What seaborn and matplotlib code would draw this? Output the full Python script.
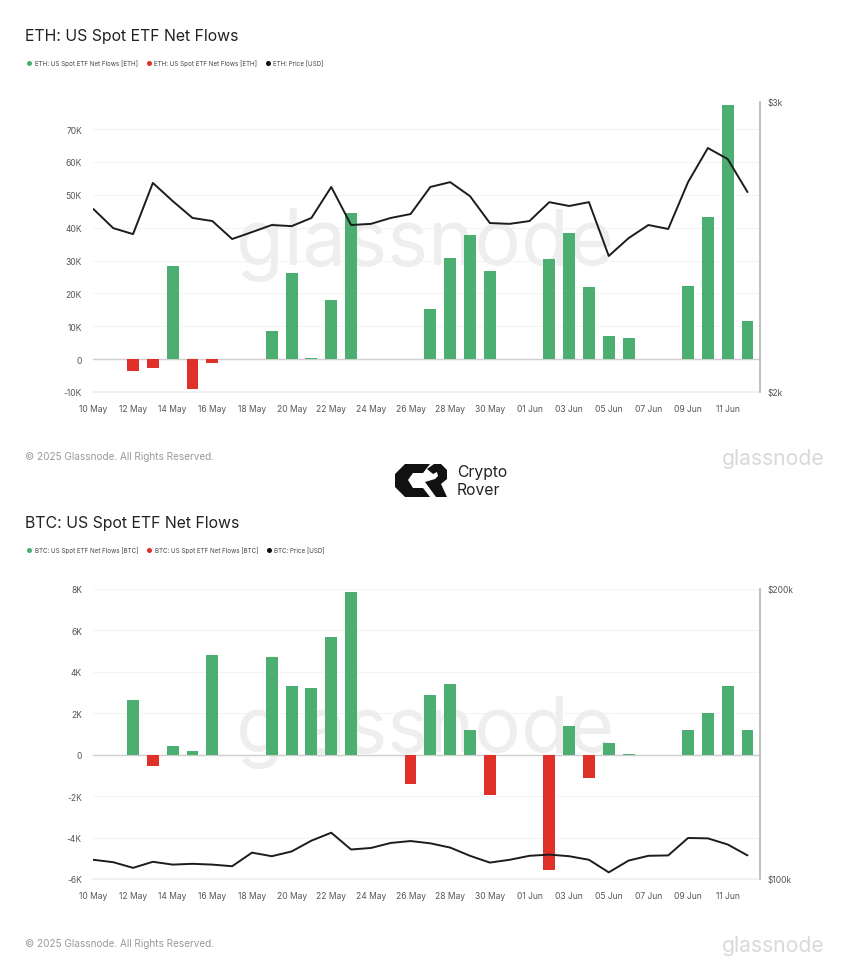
import matplotlib
matplotlib.use("Agg")
import matplotlib.pyplot as plt
import pandas as pd
import seaborn as sns
from matplotlib.lines import Line2D
from matplotlib.patches import Polygon
from matplotlib.ticker import FixedLocator, FixedFormatter, NullLocator

dates = ["10 May", "11 May", "12 May", "13 May", "14 May", "15 May", "16 May", "17 May", "18 May",
         "19 May", "20 May", "21 May", "22 May", "23 May", "24 May", "25 May", "26 May", "27 May",
         "28 May", "29 May", "30 May", "31 May", "01 Jun", "02 Jun", "03 Jun", "04 Jun", "05 Jun",
         "06 Jun", "07 Jun", "08 Jun", "09 Jun", "10 Jun", "11 Jun", "12 Jun"]

eth_flows = [0, 0, -3.5, -2.8, 28.2, -9.2, -1.3, 0, 0, 8.5, 26.2, 0.3, 18, 44.5, 0, 0, 0, 15.3,
             30.8, 37.8, 26.7, 0, 0, 30.5, 38.5, 22, 7, 6.3, 0, 0, 22.2, 43.4, 77.3, 11.6]
eth_price = [2583, 2515, 2494, 2679, 2612, 2551, 2540, 2477, 2501, 2526, 2522, 2551, 2664, 2526,
             2530, 2551, 2565, 2664, 2682, 2630, 2533, 2530, 2540, 2608, 2594, 2608, 2419, 2480,
             2526, 2512, 2682, 2813, 2770, 2645]
btc_flows = [0, 0, 2.65, -0.55, 0.4, 0.18, 4.8, 0, 0, 4.7, 3.3, 3.2, 5.7, 7.85, 0, 0, -1.4, 2.9,
             3.4, 1.2, -1.95, 0, 0, -5.55, 1.4, -1.1, 0.55, 0.05, 0, 0, 1.2, 2.0, 3.3, 1.2]
btc_price = [104.7, 104.1, 102.7, 104.2, 103.5, 103.7, 103.5, 103.1, 106.5, 105.6, 106.8, 109.6,
             111.7, 107.3, 107.7, 109.0, 109.5, 108.9, 107.8, 105.7, 104.0, 104.7, 105.7, 106.0,
             105.6, 104.7, 101.6, 104.5, 105.7, 105.8, 110.3, 110.2, 108.6, 105.8]

eth_ticks = [-10, 0, 10, 20, 30, 40, 50, 60, 70]
eth_tick_labels = ["-10K", "0", "10K", "20K", "30K", "40K", "50K", "60K", "70K"]
btc_ticks = [-6, -4, -2, 0, 2, 4, 6, 8]
btc_tick_labels = ["-6K", "-4K", "-2K", "0", "2K", "4K", "6K", "8K"]

GREEN, RED = "#4DAE72", "#E0302A"
W, H = 844, 978

sns.set_theme(style="white")
plt.rcParams["font.family"] = ["Inter", "DejaVu Sans"]
fig = plt.figure(figsize=(W / 100, H / 100), dpi=100)
fig.patch.set_facecolor("white")


def px(x, y):
    return x / W, 1 - y / H


def panel(coin, top, bottom, flows, price, ylim, ticks, tick_labels, plim, pticks, plabels):
    ax = fig.add_axes([93 / W, 1 - bottom / H, (760 - 93) / W, (bottom - top) / H])
    ax.set_zorder(1)
    df = pd.DataFrame({"date": dates, "flow": flows,
                       "side": ["in" if v >= 0 else "out" for v in flows]})
    sns.barplot(data=df, x="date", y="flow", hue="side", order=dates, hue_order=["in", "out"],
                palette={"in": GREEN, "out": RED}, dodge=False, width=0.6, saturation=1,
                legend=False, ax=ax, zorder=3, linewidth=0)
    ax.set_xlim(-0.02, 33.63)
    ax.set_ylim(*ylim)
    ax.set_xlabel("")
    ax.set_ylabel("")
    ax.set_xticks(range(0, len(dates), 2))
    ax.set_xticklabels(dates[::2])
    ax.set_yticks(ticks)
    ax.set_yticklabels(tick_labels)
    ax.tick_params(axis="x", length=3, width=0.6, color="#f0f0f0", labelsize=6.1,
                   labelcolor="#555555", pad=6)
    ax.tick_params(axis="y", length=0, labelsize=6.1, labelcolor="#555555", pad=8)
    ax.grid(axis="y", color="#f4f4f4", lw=0.8, zorder=0)
    ax.set_axisbelow(True)
    ax.axhline(0, color="#cfcfcf", lw=1, zorder=2)
    for s in ("top", "left", "right"):
        ax.spines[s].set_visible(False)
    ax.spines["bottom"].set_color("#f0f0f0")
    ax.text(0.4975, (bottom - (top + 162)) / (bottom - top), "glassnode", transform=ax.transAxes,
            ha="center", va="baseline", fontsize=56, color="#eeeeee", zorder=1)

    ax2 = ax.twinx()
    ax2.set_zorder(2)
    sns.lineplot(x=list(range(len(dates))), y=price, color="#1c1c1c", lw=1.4, ax=ax2)
    ax2.set_yscale("log")
    ax2.set_ylim(*plim)
    ax2.yaxis.set_major_locator(FixedLocator(pticks))
    ax2.yaxis.set_major_formatter(FixedFormatter(plabels))
    ax2.yaxis.set_minor_locator(NullLocator())
    ax2.set_ylabel("")
    ax2.tick_params(axis="y", length=0, labelsize=6.1, labelcolor="#555555", pad=5.5)
    for s in ("top", "left", "bottom"):
        ax2.spines[s].set_visible(False)
    ax2.spines["right"].set_color("#b5b5b5")
    ax2.spines["right"].set_linewidth(1.2)

    # header, legend, footer
    fig.text(*px(25, top - 66.5), f"{coin}: US Spot ETF Net Flows", fontsize=11.4, color="#222222",
             ha="left", va="center")
    handles = [Line2D([], [], ls="", marker="o", ms=2.6, color=c) for c in (GREEN, RED, "#111111")]
    labels = [f"{coin}: US Spot ETF Net Flows [{coin}]"] * 2 + [f"{coin}: Price [USD]"]
    fig.legend(handles, labels, loc="center left", bbox_to_anchor=px(27, top - 39), ncol=3,
               frameon=False, fontsize=4.5, labelcolor="#444444", borderpad=0, borderaxespad=0,
               handlelength=0.8, handletextpad=0.45, columnspacing=1.35)
    fig.text(*px(25, bottom + 64), "© 2025 Glassnode. All Rights Reserved.", fontsize=7.2,
             color="#9a9a9a", ha="left", va="center")
    fig.text(*px(722, bottom + 72), "glassnode", fontsize=15.2, color="#d9d9d9", ha="left",
             va="baseline")


panel("ETH", 103, 393, eth_flows, eth_price, (-10, 78.25), eth_ticks, eth_tick_labels,
      (2000, 3000), [2000, 3000], ["$2k", "$3k"])
panel("BTC", 590, 880, btc_flows, btc_price, (-6, 8), btc_ticks, btc_tick_labels,
      (100, 200), [100, 200], ["$100k", "$200k"])

# Crypto Rover logo
c_shape = [(405, 465), (430, 465), (423, 474), (413, 474), (408, 481), (413, 489), (423, 489),
           (430, 498), (405, 498), (395, 488), (395, 475)]
r_shape = [(427, 470), (434, 465), (441, 465), (447, 471), (447, 480), (441, 485), (447, 498),
           (436, 498), (425, 483), (435, 480), (438, 477), (437, 473), (433, 475)]
for shape in (c_shape, r_shape):
    fig.add_artist(Polygon([px(*p) for p in shape], closed=True, facecolor="#111111", edgecolor="none",
                           transform=fig.transFigure))
fig.text(*px(457, 473), "Crypto", fontsize=11.3, color="#222222", ha="left", va="center")
fig.text(*px(457, 491), "Rover", fontsize=11.3, color="#222222", ha="left", va="center")

fig.savefig("out.png", dpi=100)
